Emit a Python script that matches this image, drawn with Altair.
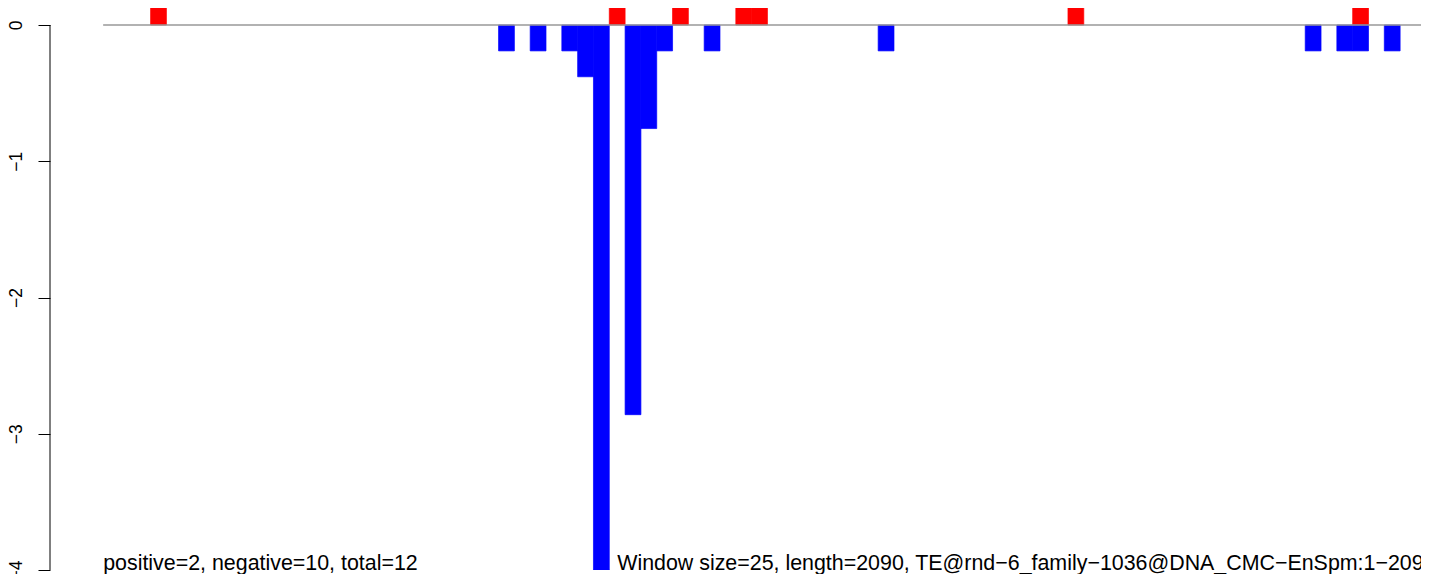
import altair as alt
import pandas as pd

# ---- data ----
n_windows = 84
pos_index = [3, 32, 36, 40, 41, 61, 79]
pos_value = [0.19, 0.19, 0.19, 0.19, 0.19, 0.19, 0.19]
neg_index = [25, 27, 29, 30, 31, 33, 34, 35, 38, 49, 76, 78, 79, 81]
neg_value = [-0.19, -0.19, -0.19, -0.38, -4.0, -2.86, -0.76, -0.19, -0.19, -0.19,
             -0.19, -0.19, -0.19, -0.19]
y_ticks = [0, -1, -2, -3, -4]
label_left = "positive=2, negative=10, total=12"
label_right = "Window size=25, length=2090, TE@rnd\u22126_family\u22121036@DNA_CMC\u2212EnSpm:1\u22122090"

rows = []
for i, v in zip(pos_index, pos_value):
    rows.append({"start": i, "end": i + 1, "value": v, "sign": "pos"})
for i, v in zip(neg_index, neg_value):
    rows.append({"start": i, "end": i + 1, "value": v, "sign": "neg"})
bars_df = pd.DataFrame(rows)

x_scale = alt.Scale(domain=[-3.36, 83.32], nice=False, zero=False)
y_scale = alt.Scale(domain=[-4, 0.1248], nice=False, zero=False)
col_scale = alt.Scale(domain=["pos", "neg"], range=["#ff0000", "#0000ff"])

bars = alt.Chart(bars_df).mark_rect(clip=True, strokeWidth=0.7).encode(
    x=alt.X("start:Q", scale=x_scale, axis=None),
    x2="end:Q",
    y=alt.Y("value:Q", scale=y_scale,
            axis=alt.Axis(values=y_ticks, format="d", title=None, grid=False, domain=False,
                          labelAngle=270, labelAlign="center", labelBaseline="alphabetic",
                          labelPadding=17, tickSize=12, tickColor="black", tickWidth=1,
                          labelFontSize=17.5, labelFont="Liberation Sans",
                          labelColor="black")),
    y2=alt.datum(0),
    color=alt.Color("sign:N", scale=col_scale, legend=None),
    stroke=alt.Stroke("sign:N", scale=col_scale, legend=None),
)

axis_line = alt.Chart(pd.DataFrame({"a": [0], "b": [-4]})).mark_rule(
    color="black", strokeWidth=1).encode(
    x=alt.value(0),
    y=alt.Y("a:Q", scale=y_scale),
    y2="b:Q",
)

baseline = alt.Chart(pd.DataFrame({"s": [0], "e": [n_windows], "z": [0]})).mark_rule(
    color="#999999", strokeWidth=1.3, clip=True).encode(
    x=alt.X("s:Q", scale=x_scale),
    x2="e:Q",
    y=alt.Y("z:Q", scale=y_scale),
)

texts_df = pd.DataFrame({"label": [label_left, label_right], "tx": [0.0, 32.5], "ty": [-4, -4]})
texts = alt.Chart(texts_df).mark_text(
    align="left", baseline="alphabetic", fontSize=21.4, font="Liberation Sans", color="black"
).encode(
    x=alt.X("tx:Q", scale=x_scale),
    y=alt.Y("ty:Q", scale=y_scale),
    text="label:N",
)

chart = alt.layer(bars, baseline, axis_line, texts).properties(
    width=1371, height=562,
    autosize=alt.AutoSizeParams(type="none"),
    padding={"left": 42, "top": 0, "right": 0, "bottom": 4},
).configure(background="white").configure_view(stroke=None)

chart.save("out.html", embed_options={"renderer": "svg", "actions": False})
